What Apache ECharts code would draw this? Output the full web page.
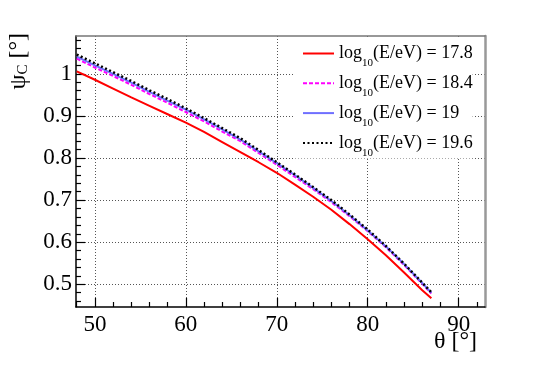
<!DOCTYPE html>
<html>
<head>
<meta charset="utf-8">
<script src="https://cdn.jsdelivr.net/npm/echarts@6/dist/echarts.min.js"></script>
<style>
  html, body { margin: 0; padding: 0; background: #fff; }
  #chart { width: 540px; height: 366px; }
</style>
</head>
<body>
<div id="chart"></div>
<script>
// zenith angle theta [deg]
const theta = [48, 50, 52, 54, 56, 58, 60, 62, 64, 66, 68, 70, 72, 74, 76, 78, 80, 82, 84, 86, 87];
// psi_C [deg] for each log10(E/eV)
const psi178 = [1.006, 0.986, 0.965, 0.944, 0.924, 0.904, 0.884, 0.862, 0.838, 0.814, 0.790, 0.765, 0.737, 0.708, 0.677, 0.643, 0.607, 0.569, 0.528, 0.486, 0.467];
const psi184 = [1.036, 1.015, 0.995, 0.974, 0.952, 0.931, 0.909, 0.887, 0.863, 0.840, 0.812, 0.784, 0.755, 0.726, 0.695, 0.662, 0.626, 0.588, 0.546, 0.501, 0.478];
const psi190 = [1.041, 1.020, 1.000, 0.979, 0.957, 0.936, 0.915, 0.892, 0.868, 0.844, 0.816, 0.788, 0.759, 0.729, 0.698, 0.664, 0.628, 0.590, 0.548, 0.503, 0.480];
const psi196 = [1.046, 1.025, 1.004, 0.983, 0.961, 0.940, 0.918, 0.895, 0.871, 0.847, 0.819, 0.790, 0.761, 0.731, 0.700, 0.666, 0.630, 0.591, 0.549, 0.504, 0.481];
const energies = ['17.8', '18.4', '19', '19.6'];

const thetaTicks = [50, 60, 70, 80, 90];
const thetaMinorTicks = [48, 52, 54, 56, 58, 62, 64, 66, 68, 72, 74, 76, 78, 82, 84, 86, 88, 92];
const psiTicks = [0.5, 0.6, 0.7, 0.8, 0.9, 1];
const psiMinorTicks = [0.46, 0.48, 0.52, 0.54, 0.56, 0.58, 0.62, 0.64, 0.66, 0.68, 0.72, 0.74, 0.76, 0.78,
  0.82, 0.84, 0.86, 0.88, 0.92, 0.94, 0.96, 0.98, 1.02, 1.04, 1.06, 1.08];

const FONT = 'Liberation Serif';
const xMin = 47.92, xMax = 92.9;
const yMin = 0.446, yMax = 1.09;

const chart = echarts.init(document.getElementById('chart'));

function pairs(ys) {
  return theta.map((t, i) => [t, ys[i]]);
}

const gridLine = { show: true, lineStyle: { color: '#555', type: [1, 2], width: 1 } };

const option = {
  animation: false,
  backgroundColor: '#fff',
  textStyle: { fontFamily: FONT },
  grid: { left: 76, right: 55, top: 36, bottom: 59, containLabel: false, outerBoundsMode: 'none' },
  legend: {
    orient: 'vertical',
    left: 295,
    top: 38,
    padding: [0, 0, 0, 7],
    backgroundColor: '#fff',
    itemWidth: 31,
    itemHeight: 14,
    itemGap: -1.2,
    selectedMode: false,
    data: energies,
    itemStyle: { color: 'rgba(0,0,0,0)', borderWidth: 0, opacity: 0 },
    formatter: function (name) {
      return '{m|log}{s|10}{m|(E/eV) = ' + name + '}';
    },
    textStyle: {
      color: '#000',
      rich: {
        m: { fontFamily: FONT, fontSize: 18, lineHeight: 18, verticalAlign: 'middle', color: '#000' },
        s: { fontFamily: FONT, fontSize: 11, lineHeight: 11, verticalAlign: 'middle', padding: [20, 0, 0, 0], color: '#000' }
      }
    }
  },
  graphic: [
    {
      type: 'text',
      x: 18.5,
      y: 33,
      rotation: Math.PI / 2,
      style: {
        text: '{m|ψ}{s|C}{m| [°]}',
        align: 'right',
        verticalAlign: 'middle',
        fill: '#000',
        rich: {
          m: { fontFamily: FONT, fontSize: 24, lineHeight: 24, verticalAlign: 'middle', fill: '#000' },
          s: { fontFamily: FONT, fontSize: 15, lineHeight: 15, verticalAlign: 'middle', padding: [10, 0, 0, 0], fill: '#000' }
        }
      }
    },
    {
      type: 'text',
      x: 477,
      y: 342,
      style: {
        text: 'θ [°]',
        align: 'right',
        verticalAlign: 'middle',
        fill: '#000',
        fontFamily: FONT,
        fontSize: 24
      }
    }
  ],
  xAxis: [
    {
      type: 'value', position: 'bottom', min: xMin, max: xMax,
      axisLine: { onZero: false, lineStyle: { color: '#000', width: 1.5 } },
      axisTick: { inside: true, length: 9, customValues: thetaTicks, lineStyle: { color: '#000', width: 1.2 } },
      axisLabel: { customValues: thetaTicks, fontFamily: FONT, fontSize: 23, color: '#000', margin: 6 },
      splitLine: gridLine
    },
    {
      type: 'value', position: 'bottom', min: xMin, max: xMax,
      axisLine: { show: false },
      axisTick: { inside: true, length: 5, customValues: thetaMinorTicks, lineStyle: { color: '#000', width: 1.2 } },
      axisLabel: { show: false },
      splitLine: { show: false }
    },
    {
      type: 'value', position: 'top', min: xMin, max: xMax,
      axisLine: { onZero: false, lineStyle: { color: '#777', width: 1.5 } },
      axisTick: { show: false },
      axisLabel: { show: false },
      splitLine: { show: false }
    }
  ],
  yAxis: [
    {
      type: 'value', position: 'left', min: yMin, max: yMax,
      axisLine: { show: true, onZero: false, lineStyle: { color: '#000', width: 1.5 } },
      axisTick: { show: true, inside: true, length: 9, customValues: psiTicks, lineStyle: { color: '#000', width: 1.2 } },
      axisLabel: { customValues: psiTicks, fontFamily: FONT, fontSize: 23, color: '#000', margin: 4 },
      splitLine: gridLine
    },
    {
      type: 'value', position: 'left', min: yMin, max: yMax,
      axisLine: { show: false },
      axisTick: { show: true, inside: true, length: 5, customValues: psiMinorTicks, lineStyle: { color: '#000', width: 1.2 } },
      axisLabel: { show: false },
      splitLine: { show: false }
    },
    {
      type: 'value', position: 'right', min: yMin, max: yMax,
      axisLine: { show: true, onZero: false, lineStyle: { color: '#999', width: 2.5 } },
      axisTick: { show: false },
      axisLabel: { show: false },
      splitLine: { show: false }
    }
  ],
  series: [
    {
      name: energies[0], type: 'line', data: pairs(psi178), symbol: 'none',
      lineStyle: { color: '#ff0000', width: 2, type: 'solid' }, itemStyle: { color: '#ff0000' }
    },
    {
      name: energies[1], type: 'line', data: pairs(psi184), symbol: 'none',
      lineStyle: { color: '#ff00ff', width: 2, type: [4, 2] }, itemStyle: { color: '#ff00ff' }
    },
    {
      name: energies[2], type: 'line', data: pairs(psi190), symbol: 'none',
      lineStyle: { color: '#6f6fff', width: 2, type: 'solid' }, itemStyle: { color: '#6f6fff' }
    },
    {
      name: energies[3], type: 'line', data: pairs(psi196), symbol: 'none',
      lineStyle: { color: '#000', width: 2.5, type: [2, 2.5] }, itemStyle: { color: '#000' }
    }
  ]
};

chart.setOption(option);
</script>
</body>
</html>
